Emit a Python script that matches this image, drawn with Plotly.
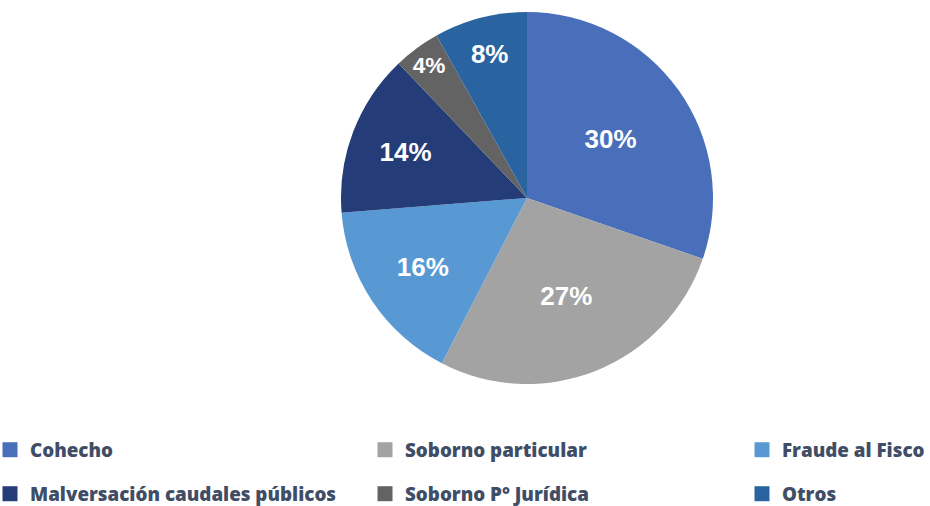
import plotly.graph_objects as go

# Delitos: share of cases by offence type (percent)
categories = ["Cohecho", "Soborno particular", "Fraude al Fisco",
              "Malversación caudales públicos", "Soborno P° Jurídica", "Otros"]
shares = [30, 27, 16, 14, 4, 8]
slice_colors = ["#4a6fba", "#a3a3a3", "#5899d4", "#243c78", "#636363", "#2a64a0"]

# Legend grid: column and row of each entry
legend_col = [0, 1, 2, 0, 1, 2]
legend_row = [0, 0, 0, 1, 1, 1]

W, H = 930, 506
cx, cy, r = 527, 198, 186  # pie centre and radius in pixels
col_x = [-10, 365, 742]    # left edge of each legend column, px
row_y = [450, 494]         # vertical centre of each legend row, px

fig = go.Figure()

fig.add_trace(go.Pie(
    labels=categories,
    values=shares,
    sort=False,
    direction="clockwise",
    rotation=0,
    marker=dict(colors=slice_colors, line=dict(width=0)),
    texttemplate="%{value}%",
    textposition="inside",
    insidetextorientation="horizontal",
    textfont=dict(family="Liberation Sans", size=26, color="white", weight="bold"),
    domain=dict(x=[(cx - r) / W, (cx + r) / W],
                y=[(H - cy - r) / H, (H - cy + r) / H]),
    automargin=False,
    showlegend=False,
    hoverinfo="label+percent",
))

legend_layout = {}
for i, (name, color) in enumerate(zip(categories, slice_colors)):
    key = "legend" if i == 0 else f"legend{i + 1}"
    fig.add_trace(go.Scatter(
        x=[None], y=[None], mode="markers", name=name,
        marker=dict(symbol="square", size=15, color=color),
        legend=key,
        showlegend=True,
    ))
    legend_layout[key] = dict(
        x=col_x[legend_col[i]] / W,
        y=(H - row_y[legend_row[i]]) / H,
        xanchor="left",
        yanchor="middle",
        orientation="h",
        bgcolor="rgba(0,0,0,0)",
        borderwidth=0,
        font=dict(family="Open Sans", size=18.8, color="#3f4e66", weight=800),
        itemclick=False,
        itemdoubleclick=False,
    )

fig.update_layout(
    width=W, height=H,
    margin=dict(l=0, r=0, t=0, b=0, autoexpand=False),
    paper_bgcolor="white",
    plot_bgcolor="white",
    xaxis=dict(visible=False),
    yaxis=dict(visible=False),
    **legend_layout,
)

fig.write_html("out.html")
